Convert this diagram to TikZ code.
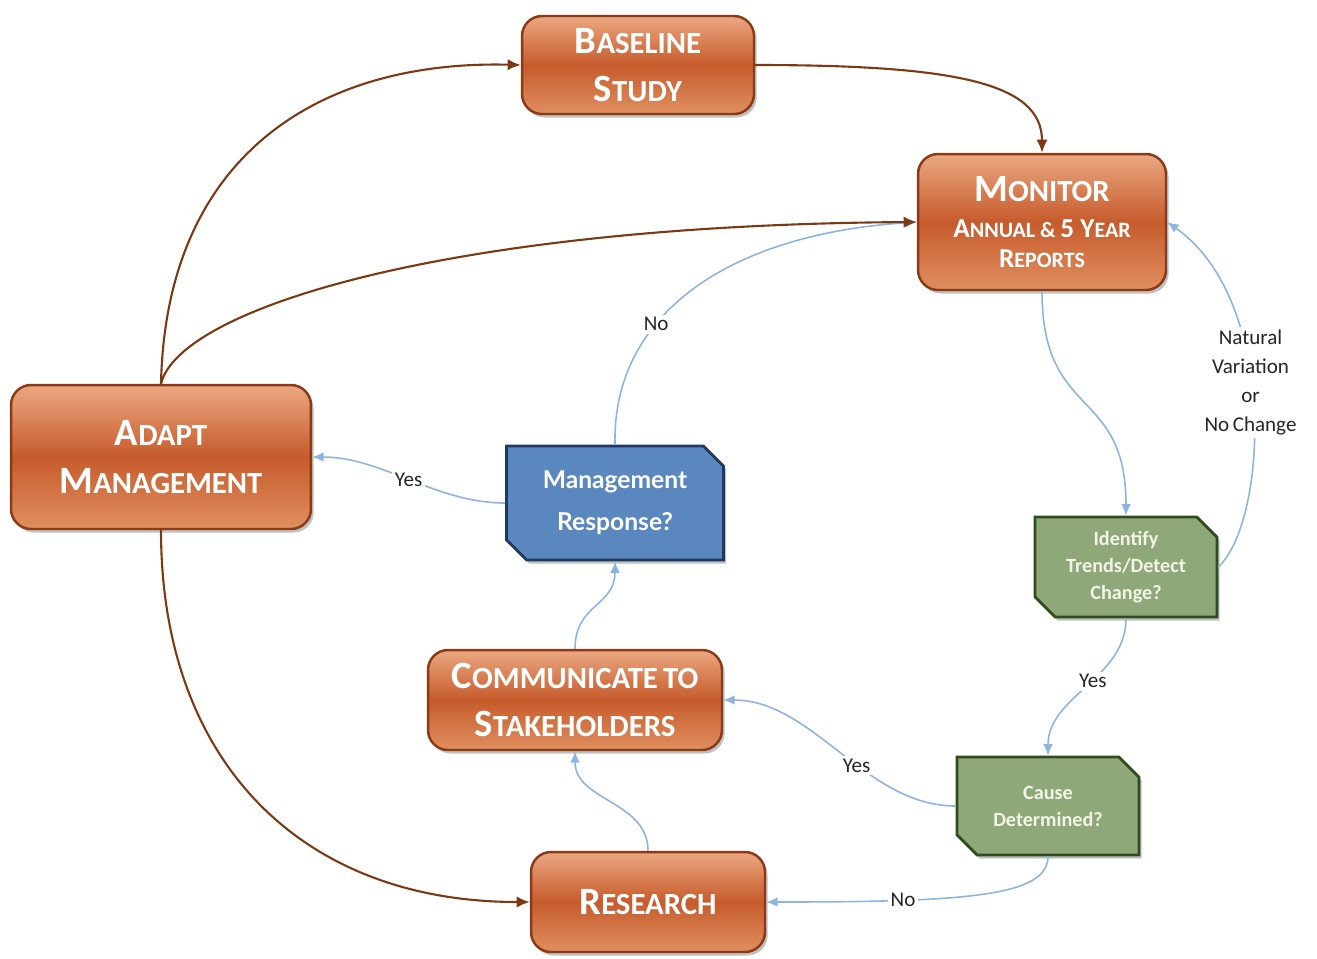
\documentclass[tikz,border=0pt]{standalone}
\usepackage{fontspec}
\setmainfont{Carlito}
\newfontfamily\gillfont{Lato}
\usetikzlibrary{shapes.misc,shadows,arrows.meta}
\definecolor{orTop}{HTML}{EBA881}
\definecolor{orMid}{HTML}{C65B2C}
\definecolor{orBot}{HTML}{E08F60}
\definecolor{orLine}{HTML}{8A3A16}
\definecolor{brownArrow}{HTML}{7B3A14}
\definecolor{blueArrow}{HTML}{8DB3E2}
\definecolor{bluFill}{HTML}{5A88BE}
\definecolor{bluLine}{HTML}{1F3A5F}
\definecolor{grnFill}{HTML}{8EA87A}
\definecolor{grnLine}{HTML}{2E4C1E}
\definecolor{grnText}{HTML}{F4F4E6}
\definecolor{lblText}{HTML}{262626}
\newcommand\SCap[2]{{\fontsize{22}{24}\selectfont #1}{\fontsize{17.5}{20}\selectfont #2}}
\newcommand\SCsub[2]{{\fontsize{15.5}{17}\selectfont #1}{\fontsize{12.5}{14}\selectfont #2}}
\begin{document}
\begin{tikzpicture}[x=0.02cm,y=-0.02cm,
  procbox/.style={rounded corners=0.4cm, draw=orLine, line width=1.4pt,
    top color=orTop, bottom color=orBot, middle color=orMid, text=white,
    font=\bfseries\fontsize{17.5}{27}\selectfont, align=center, inner sep=0pt,
    drop shadow={shadow xshift=1.5pt, shadow yshift=-2pt, opacity=0.35, fill=black!70}},
  decbox/.style={chamfered rectangle, chamfered rectangle corners={north east,south west},
    chamfered rectangle xsep=0.2cm, chamfered rectangle ysep=0.2cm,
    line width=1.6pt, inner sep=0pt, align=center,
    drop shadow={shadow xshift=1.5pt, shadow yshift=-2pt, opacity=0.35, fill=black!70}},
  bluebox/.style={decbox, fill=bluFill, draw=bluLine, text=white,
    font=\gillfont\bfseries\fontsize{14}{24}\selectfont},
  grnbox/.style={decbox, fill=grnFill, draw=grnLine, text=grnText,
    font=\bfseries\fontsize{11.5}{15.3}\selectfont},
  brownarrow/.style={draw=brownArrow, line width=1.2pt, -{Latex[length=7.5pt,width=6.5pt]}},
  bluearrow/.style={draw=blueArrow, line width=0.9pt, -{Latex[length=6.5pt,width=5.5pt]}},
  lbl/.style={fill=white, inner sep=1.5pt, text=lblText, font=\fontsize{12}{16.5}\selectfont, align=center}
]
\useasboundingbox (0,0) rectangle (1317,958);

% process boxes
\node[procbox, minimum width=4.64cm, minimum height=1.96cm] (base) at (638,65)
  {\SCap{B}{ASELINE}\\\SCap{S}{TUDY}};
\node[procbox, minimum width=4.96cm, minimum height=2.72cm, font=\bfseries\fontsize{12.5}{17}\selectfont] (mon) at (1042,222)
  {\SCap{M}{ONITOR}\\[4pt]\SCsub{A}{NNUAL \&} \SCsub{5 Y}{EAR}\\\SCsub{R}{EPORTS}};
\node[procbox, minimum width=6.0cm, minimum height=2.88cm] (adapt) at (161,457)
  {\SCap{A}{DAPT}\\\SCap{M}{ANAGEMENT}};
\node[procbox, minimum width=5.88cm, minimum height=2.0cm] (comm) at (575,700)
  {\SCap{C}{OMMUNICATE}\,\SCap{}{TO}\\\SCap{S}{TAKEHOLDERS}};
\node[procbox, minimum width=4.68cm, minimum height=2.0cm] (res) at (648,902)
  {\SCap{R}{ESEARCH}};

% decision boxes
\node[bluebox, minimum width=4.34cm, minimum height=2.28cm] (mresp) at (615,503)
  {Management\\Response?};
\node[grnbox, minimum width=3.64cm, minimum height=2.0cm] (ident) at (1126,567)
  {Identify\\Trends/Detect\\Change?};
\node[grnbox, minimum width=3.64cm, minimum height=1.96cm] (cause) at (1048,806)
  {Cause\\Determined?};

% blue connectors
\draw[bluearrow] (mresp.north) .. controls (612,320) and (720,235) .. node[lbl, pos=0.37] {No} (mon.west);
\draw[bluearrow] (mon.south) .. controls +(0,130) and +(0,-130) .. (ident.north);
\draw[bluearrow] (ident.east) .. controls (1268,520) and (1278,300) .. node[lbl, pos=0.555] {Natural\\Variation\\or\\No\,Change} (mon.east);
\draw[bluearrow] (ident.south) .. controls +(0,60) and +(0,-60) .. node[lbl, pos=0.45] {Yes} (cause.north);
\draw[bluearrow] (cause.west) .. controls +(-90,0) and +(90,0) .. node[lbl, pos=0.42] {Yes} (comm.east);
\draw[bluearrow] (cause.south) .. controls +(0,40) and +(200,0) .. node[lbl, pos=0.73] {No} (res.east);
\draw[bluearrow] (res.north) .. controls +(0,-50) and +(0,50) .. (comm.south);
\draw[bluearrow] (comm.north) .. controls +(0,-45) and +(0,45) .. (mresp.south);
\draw[bluearrow] (mresp.west) .. controls +(-70,0) and +(70,0) .. node[lbl, pos=0.5] {Yes} (adapt.east);

% brown connectors
\draw[brownarrow] (adapt.north) .. controls +(5,-230) and +(-200,-5) .. (base.west);
\draw[brownarrow] (adapt.north) .. controls +(18,-75) and +(-470,3) .. (mon.west);
\draw[brownarrow] (base.east) .. controls +(200,0) and +(0,-70) .. (mon.north);
\draw[brownarrow] (adapt.south) .. controls +(0,230) and +(-230,0) .. (res.west);
\end{tikzpicture}
\end{document}
